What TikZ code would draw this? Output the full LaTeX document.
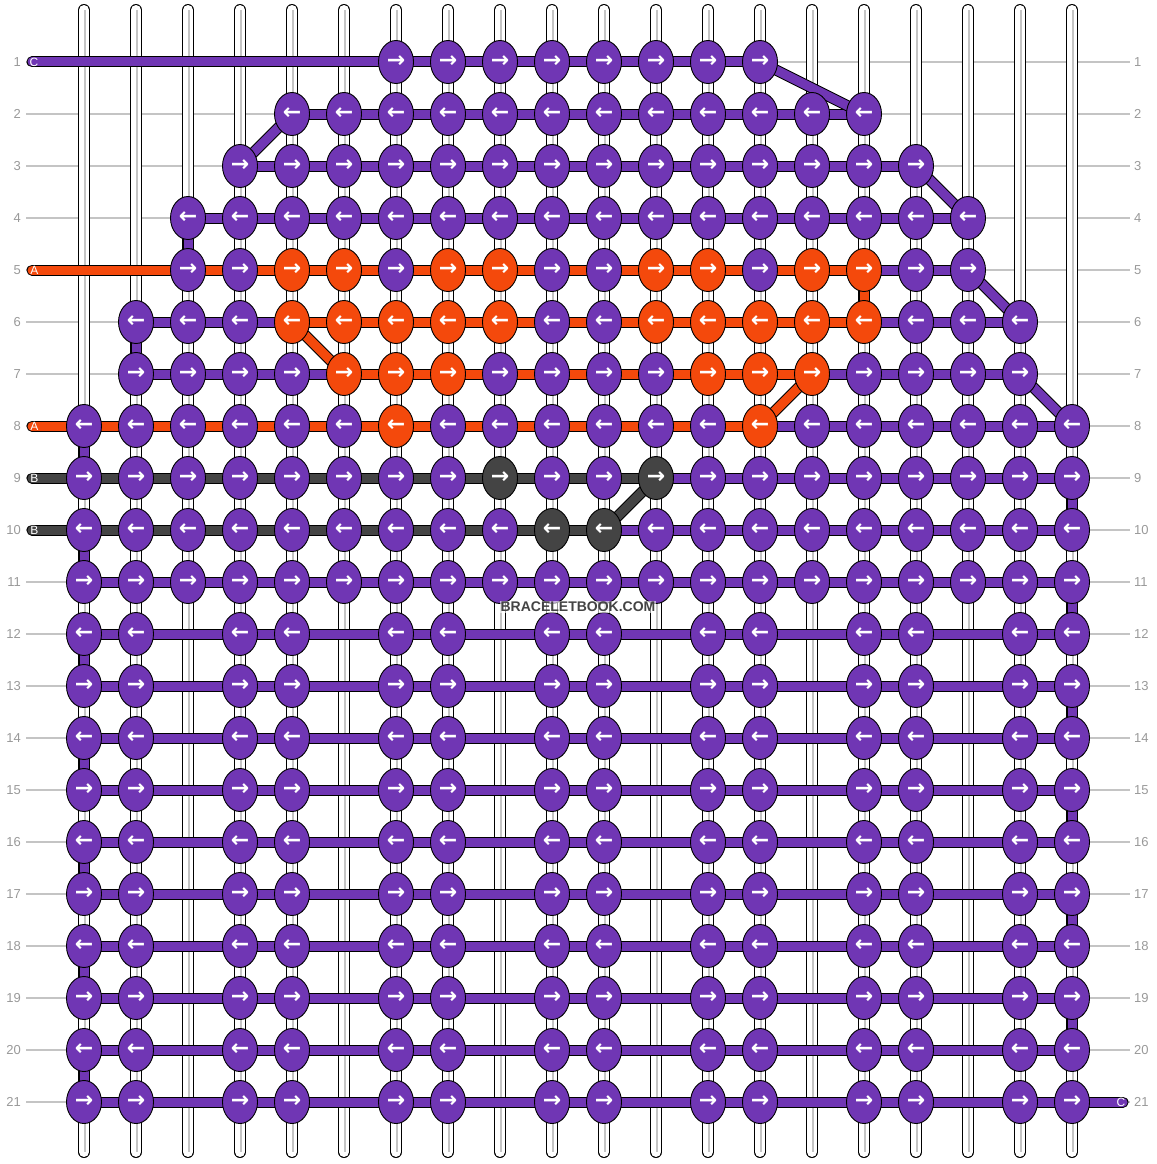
\documentclass[tikz,border=0pt]{standalone}
\usepackage{fontspec}
\setmainfont{Liberation Sans}
\newfontfamily\arrowfont{DejaVu Sans}
\usetikzlibrary{shapes.geometric}
\definecolor{pur}{HTML}{7036B4}
\definecolor{org}{HTML}{F4490C}
\definecolor{drk}{HTML}{444444}
\definecolor{numgray}{HTML}{999999}
\definecolor{linegray}{HTML}{C4C4C4}
\pgfdeclarelayer{lines}
\pgfdeclarelayer{threads}
\pgfsetlayers{lines,threads,main}
% odd rows are knotted to the right, even rows to the left
\newcommand\knotarr[1]{\ifodd#1\relax→\else←\fi}
\begin{document}
\begin{tikzpicture}[x=1pt,y=-1pt,
  knot/.style={ellipse,draw=black,line width=0.9pt,fill=pur,minimum width=35pt,minimum height=43pt,inner sep=0,font=\arrowfont\bfseries\fontsize{22}{22}\selectfont,text=white},
  num/.style={font=\fontsize{13}{13}\selectfont,text=numgray,inner sep=0},
  tag/.style={font=\fontsize{12}{12}\selectfont,text=white,inner sep=0},
  rowline/.style={linegray,line width=1.2pt},
  warp/.style={draw=black,line width=1pt,double=white,double distance=10pt,line cap=round},
  warpmid/.style={linegray,line width=1.5pt},
  thread/.style={draw=black,line width=1pt,double=#1,double distance=9pt,line cap=round},
  thread/.default=pur]
\useasboundingbox (0,0) rectangle (1156,1164);
% row numbers, both sides
\foreach \r in {1,...,21}{
  \node[num,anchor=east] (ln\r) at (21,{10+52*\r}) {\r};
  \node[num,anchor=west] (rn\r) at (1134,{10+52*\r}) {\r};
}
\begin{pgfonlayer}{lines}
\foreach \r in {1,...,21}
  \draw[rowline] ([xshift=5pt]ln\r.east) -- ([xshift=-4pt]rn\r.west);
% the 20 hanging strings
\foreach \c in {1,...,20}{
  \coordinate (wt\c) at ({32+52*\c},10);
  \coordinate (wb\c) at ({32+52*\c},1152);
  \draw[warp] (wt\c) -- (wb\c);
  \draw[warpmid] ([xshift=1pt]wt\c) -- ([xshift=1pt]wb\c);
}
\end{pgfonlayer}
% knots: runs of one colour, row/first/last/colour
\foreach \r/\a/\b/\f in {1/7/14/pur,2/5/16/pur,3/4/17/pur,4/3/18/pur,
    5/3/4/pur,5/5/6/org,5/7/7/pur,5/8/9/org,5/10/11/pur,5/12/13/org,5/14/14/pur,5/15/16/org,5/17/18/pur,
    6/2/4/pur,6/5/9/org,6/10/11/pur,6/12/16/org,6/17/19/pur,
    7/2/5/pur,7/6/8/org,7/9/12/pur,7/13/15/org,7/16/19/pur,
    8/1/6/pur,8/7/7/org,8/8/13/pur,8/14/14/org,8/15/20/pur,
    9/1/8/pur,9/9/9/drk,9/10/11/pur,9/12/12/drk,9/13/20/pur,
    10/1/9/pur,10/10/11/drk,10/12/20/pur,11/1/20/pur}
  \foreach \c in {\a,...,\b}
    \node[knot,fill=\f] (k\r-\c) at ({32+52*\c},{10+52*\r}) {\knotarr{\r}};
% lower part, every third string left out
\foreach \r in {12,...,21}
  \foreach \c in {1,2,4,5,7,8,10,11,13,14,16,17,19,20}
    \node[knot] (k\r-\c) at ({32+52*\c},{10+52*\r}) {\knotarr{\r}};
% loose ends
\coordinate (eC1) at (32,62);
\coordinate (eA5) at (32,270);
\coordinate (eA8) at (32,426);
\coordinate (eB9) at (32,478);
\coordinate (eB10) at (32,530);
\coordinate (eC21) at (1123,1102);
\node[tag] (tC1) at (34,62) {C};
\node[tag] (tA5) at (34.5,270) {A};
\node[tag] (tA8) at (34.5,426) {A};
\node[tag] (tB9) at (34.5,478) {B};
\node[tag] (tB10) at (34.5,530) {B};
\node[tag] (tC21) at (1121,1102) {C};
\begin{pgfonlayer}{threads}
% purple thread
\draw[thread] (eC1) -- (k1-14.center);
\foreach \r/\a/\b in {2/5/16,3/4/17,4/3/18,5/16/18,6/2/5,6/16/19,7/2/6,7/15/19,8/14/20,9/12/20,10/11/20}
  \draw[thread] (k\r-\a.center) -- (k\r-\b.center);
\foreach \r in {11,...,20}
  \draw[thread] (k\r-1.center) -- (k\r-20.center);
\draw[thread] (k21-1.center) -- (eC21);
\foreach \u/\v in {1-14/2-16,2-5/3-4,3-17/4-18,4-3/5-3,5-18/6-19,6-2/7-2,7-19/8-20,8-1/9-1,9-20/10-20,10-1/11-1}
  \draw[thread] (k\u.center) -- (k\v.center);
\foreach \r [evaluate=\r as \s using int(\r+1)] in {11,13,...,19}
  \draw[thread] (k\r-20.center) -- (k\s-20.center);
\foreach \r [evaluate=\r as \s using int(\r+1)] in {12,14,...,20}
  \draw[thread] (k\r-1.center) -- (k\s-1.center);
% orange thread A
\draw[thread=org] (eA5) -- (k5-16.center);
\draw[thread=org] (k5-16.center) -- (k6-16.center);
\draw[thread=org] (k6-16.center) -- (k6-5.center);
\draw[thread=org] (k6-5.center) -- (k7-6.center);
\draw[thread=org] (k7-6.center) -- (k7-15.center);
\draw[thread=org] (k7-15.center) -- (k8-14.center);
\draw[thread=org] (k8-14.center) -- (eA8);
% dark thread B
\draw[thread=drk] (eB9) -- (k9-12.center);
\draw[thread=drk] (k9-12.center) -- (k10-11.center);
\draw[thread=drk] (k10-11.center) -- (eB10);
\end{pgfonlayer}
\node[font=\bfseries\fontsize{14}{14}\selectfont,text=drk,fill=white,fill opacity=0.6,text opacity=1,inner sep=1pt] (logo) at (578,607) {BRACELETBOOK.COM};
\end{tikzpicture}
\end{document}
